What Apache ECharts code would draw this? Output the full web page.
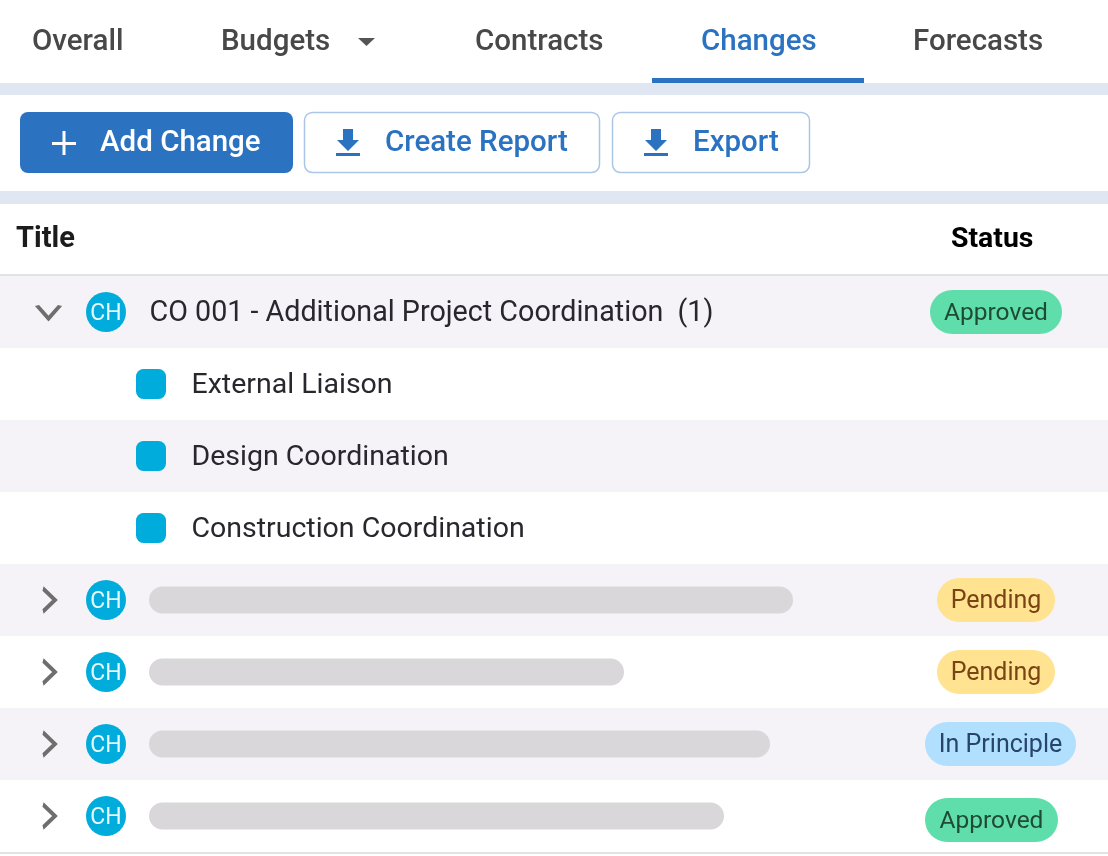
<!DOCTYPE html>
<html>
<head>
<meta charset="utf-8">
<title>Changes</title>
<style>
  html, body { margin: 0; padding: 0; background: #fff; }
  #main { width: 1108px; height: 856px; }
</style>
<script src="https://cdn.jsdelivr.net/npm/echarts@6/dist/echarts.min.js"></script>
</head>
<body>
<div id="main"></div>
<script>
// table content, one entry per row
var rows = ['CO 001', 'External Liaison', 'Design Coordination', 'Construction Coordination', 'r5', 'r6', 'r7', 'r8']
var shadedWidth = [1108, 0, 1108, 0, 1108, 0, 1108, 0]
var parentTitle = 'CO 001 - Additional Project Coordination'
var parentCount = '(1)'
var childTitles = ['External Liaison', 'Design Coordination', 'Construction Coordination']
var childRows = [1, 2, 3]
var avatarRows = [0, 4, 5, 6, 7]
var collapsedRows = [4, 5, 6, 7]
var expandedRows = [0]
// grey placeholders for hidden titles
var hiddenStart = ['-', '-', '-', '-', 149, 149, 149, 149]
var hiddenLength = ['-', '-', '-', '-', 644, 475, 621, 575]
// status pills: row, from, to, label
var statusRows = [0, 4, 5, 6, 7]
var statusFrom = [930, 937, 937, 925, 925]
var statusTo = [1062, 1055, 1055, 1076, 1058]
var statusText = ['Approved', 'Pending', 'Pending', 'In Principle', 'Approved']
var tabs = ['Overall', 'Budgets', 'Contracts', 'Changes', 'Forecasts']
var tabX = [32, 221, 475, 701, 913]

var font = 'Roboto'
var blue = '#2b72c1'
var statusColors = {
  'Approved': ['#5fdeab', '#1f4a36'],
  'Pending': ['#ffe391', '#7a4313'],
  'In Principle': ['#b1e0ff', '#27446b']
}

function rect (x, y, w, h, fill, r, stroke) {
  return {
    type: 'rect',
    shape: {x: x, y: y, width: w, height: h, r: r || 0},
    style: {fill: fill, stroke: stroke || null, lineWidth: stroke ? 1.5 : 0},
    silent: true
  }
}
function text (x, y, str, size, weight, color) {
  return {
    type: 'text',
    x: x,
    y: y + 1.5,
    silent: true,
    style: {
      text: str,
      fill: color,
      font: weight + ' ' + size + 'px ' + font,
      verticalAlign: 'middle'
    }
  }
}
function downloadIcon (x, y) {
  return [
    {
      type: 'polygon',
      silent: true,
      shape: {points: [[x + 7, y], [x + 17, y], [x + 17, y + 11], [x + 23, y + 11], [x + 12, y + 22], [x + 1, y + 11], [x + 7, y + 11]]},
      style: {fill: blue}
    },
    rect(x, y + 24, 24, 3, blue)
  ]
}

var graphics = []
// top bands
graphics.push(rect(0, 83, 1108, 12, '#e0e7f3'))
graphics.push(rect(0, 191, 1108, 13, '#e0e7f3'))
// tabs
tabs.forEach(function (t, i) {
  graphics.push(text(tabX[i], 41, t, 29.5, 500, t === 'Changes' ? blue : '#484848'))
})
graphics.push({
  type: 'polygon',
  silent: true,
  shape: {points: [[358, 38], [375, 38], [366.5, 46]]},
  style: {fill: '#555'}
})
graphics.push(rect(652, 78, 212, 5, blue))
// buttons
graphics.push(rect(20, 112, 273, 61, blue, 8))
graphics.push(rect(52, 142, 24, 3, '#fff'))
graphics.push(rect(62.5, 131, 3, 24, '#fff'))
graphics.push(text(100, 142, 'Add Change', 29.5, 500, '#fff'))
graphics.push(rect(304.5, 112.5, 295, 60, '#fff', 8, '#a9c5e8'))
graphics = graphics.concat(downloadIcon(336, 129))
graphics.push(text(385, 142, 'Create Report', 29.5, 500, blue))
graphics.push(rect(612.5, 112.5, 197, 60, '#fff', 8, '#a9c5e8'))
graphics = graphics.concat(downloadIcon(644, 129))
graphics.push(text(693, 142, 'Export', 29.5, 500, blue))
// table header
graphics.push(text(16, 238, 'Title', 29, 700, '#1c1c1c'))
graphics.push(text(951, 238, 'Status', 28.4, 700, '#000'))
graphics.push(rect(0, 274, 1108, 2, '#e2e2e4'))
graphics.push(rect(0, 852, 1108, 2, '#e2e2e4'))

function renderPill (params, api) {
  var i = params.dataIndex
  var nudge = statusRows[i] === 7 ? 4 : 0 // last pill sits a bit lower
  var from = api.coord([api.value(0), api.value(2)])
  var to = api.coord([api.value(1), api.value(2)])
  var c = statusColors[statusText[i]]
  return {
    type: 'group',
    children: [
      {
        type: 'rect',
        shape: {x: from[0], y: from[1] - 22 + nudge, width: to[0] - from[0], height: 44, r: 22},
        style: {fill: c[0]}
      },
      {
        type: 'text',
        x: (from[0] + to[0]) / 2,
        y: from[1] + nudge + 2,
        style: {
          text: statusText[i],
          fill: c[1],
          font: '400 ' + (statusText[i] === 'Approved' ? 24.5 : 25) + 'px ' + font,
          align: 'center',
          verticalAlign: 'middle'
        }
      }
    ]
  }
}

function labelStyle (size, color) {
  return {
    show: true,
    position: 'right',
    distance: 0,
    offset: [0, 2],
    formatter: '{b}',
    color: color,
    fontFamily: font,
    fontSize: size
  }
}

var grid = {left: 0, top: 276, width: 1108, height: 576}
var xAxis = {type: 'value', min: 0, max: 1108, show: false}
var yAxis = {type: 'category', data: rows, inverse: true, show: false}

var option = {
  animation: false,
  backgroundColor: '#fff',
  grid: [grid, grid],
  xAxis: [
    Object.assign({gridIndex: 0}, xAxis),
    Object.assign({gridIndex: 1}, xAxis)
  ],
  yAxis: [
    Object.assign({gridIndex: 0}, yAxis),
    Object.assign({gridIndex: 1}, yAxis)
  ],
  graphic: {elements: graphics},
  series: [
    {
      name: 'shade',
      type: 'bar',
      barWidth: '100%',
      data: shadedWidth,
      itemStyle: {color: '#f5f3f7'},
      z: 1,
      silent: true
    },
    {
      name: 'hiddenStart',
      type: 'bar',
      xAxisIndex: 1,
      yAxisIndex: 1,
      stack: 'hidden',
      barWidth: 27,
      data: hiddenStart,
      itemStyle: {color: 'transparent'},
      z: 2,
      silent: true
    },
    {
      name: 'hiddenTitle',
      type: 'bar',
      xAxisIndex: 1,
      yAxisIndex: 1,
      stack: 'hidden',
      barWidth: 27,
      data: hiddenLength,
      itemStyle: {color: '#d9d7da', borderRadius: 13.5},
      z: 2,
      silent: true
    },
    {
      name: 'collapsed',
      type: 'scatter',
      symbol: 'path://M0 0 L10 12 L0 24',
      symbolSize: [12, 23],
      data: collapsedRows.map(function (r) { return [49, r] }),
      itemStyle: {color: 'transparent', borderColor: '#6e6e6e', borderWidth: 3.5, opacity: 1},
      z: 3,
      silent: true
    },
    {
      name: 'expanded',
      type: 'scatter',
      symbol: 'path://M0 0 L12 13 L24 0',
      symbolSize: [23, 13],
      data: expandedRows.map(function (r) { return [48.5, r] }),
      itemStyle: {color: 'transparent', borderColor: '#6e6e6e', borderWidth: 3.5, opacity: 1},
      z: 3,
      silent: true
    },
    {
      name: 'avatar',
      type: 'scatter',
      symbol: 'circle',
      symbolSize: 40,
      data: avatarRows.map(function (r) { return {value: [106, r], name: 'CH'} }),
      itemStyle: {color: '#00acdc', opacity: 1},
      label: {show: true, position: 'inside', offset: [0, 2], formatter: '{b}', color: '#e9f8fd', fontFamily: font, fontSize: 23},
      z: 3,
      silent: true
    },
    {
      name: 'childIcon',
      type: 'scatter',
      symbol: 'roundRect',
      symbolSize: 30,
      data: childRows.map(function (r) { return [151, r] }),
      itemStyle: {color: '#00acdc', opacity: 1},
      z: 3,
      silent: true
    },
    {
      name: 'parentTitle',
      type: 'scatter',
      symbolSize: 1,
      data: [{value: [149, 0], name: parentTitle}, {value: [677, 0], name: parentCount}],
      itemStyle: {color: 'transparent', opacity: 1},
      label: labelStyle(28.7, '#27272d'),
      z: 4,
      silent: true
    },
    {
      name: 'childTitle',
      type: 'scatter',
      symbolSize: 1,
      data: childRows.map(function (r, i) { return {value: [191, r], name: childTitles[i]} }),
      itemStyle: {color: 'transparent', opacity: 1},
      label: labelStyle(28.5, '#27272d'),
      z: 4,
      silent: true
    },
    {
      name: 'status',
      type: 'custom',
      renderItem: renderPill,
      data: statusRows.map(function (r, i) { return [statusFrom[i], statusTo[i], r] }),
      encode: {x: [0, 1], y: 2},
      z: 4,
      silent: true
    }
  ]
}

var myChart = echarts.init(document.getElementById('main'))
myChart.setOption(option)
</script>
</body>
</html>
